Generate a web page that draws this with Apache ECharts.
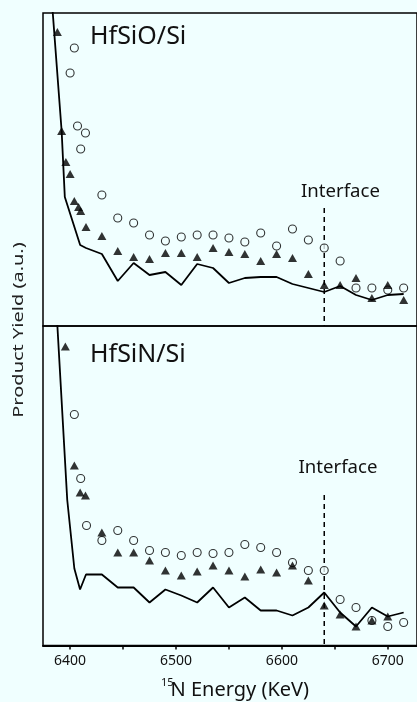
<!DOCTYPE html>
<html>
<head>
<meta charset="utf-8">
<script src="https://cdn.jsdelivr.net/npm/echarts@6/dist/echarts.min.js"></script>
<style>
html,body{margin:0;padding:0;background:#f0ffff;}
#chart{width:417px;height:702px;}
</style>
</head>
<body>
<div id="chart"></div>
<script>
// ---- Data (energies in KeV, yields in arbitrary units) ----
// Top panel: HfSiO/Si
var topLineE = [6382, 6392, 6395, 6409.5, 6415, 6430, 6445, 6460, 6475, 6490, 6505, 6520, 6535, 6550, 6565, 6580, 6595, 6610, 6625, 6640, 6655, 6670, 6685, 6700, 6715];
var topLineY = [336, 195, 129, 81, 78, 72, 45, 63, 51, 54, 41, 62, 58, 43, 48, 49, 49, 42, 38, 34, 40, 31, 26, 31, 32];
var topTriE = [6388, 6392, 6396, 6400, 6404, 6408, 6410, 6415, 6430, 6445, 6460, 6475, 6490, 6505, 6520, 6535, 6550, 6565, 6580, 6595, 6610, 6625, 6640, 6655, 6670, 6685, 6700, 6715];
var topTriY = [294, 195, 164, 152, 125, 119, 115, 99, 90, 75, 69, 67, 73, 73, 69, 78, 74, 72, 65, 72, 68, 52, 41, 41, 48, 28, 41, 26];
var topCircE = [6400, 6404, 6407, 6410, 6414.5, 6430, 6445, 6460, 6475, 6490, 6505, 6520, 6535, 6550, 6565, 6580, 6595, 6610, 6625, 6640, 6655, 6670, 6685, 6700, 6715];
var topCircY = [253, 278, 200, 177, 193, 131, 108, 103, 91, 85, 89, 91, 91, 88, 84, 93, 80, 97, 86, 78, 65, 38, 38, 36, 38];

// Bottom panel: HfSiN/Si
var botLineE = [6387, 6397.3, 6404, 6409.4, 6415, 6430, 6445, 6460, 6475, 6490, 6505, 6520, 6535, 6550, 6565, 6580, 6595, 6610, 6625, 6640, 6655, 6670, 6685, 6700, 6715];
var botLineY = [338, 145.5, 77, 56, 71, 71, 58, 58, 43, 56, 50, 43, 58, 38, 48, 35, 35, 30, 38, 53, 33, 19, 38, 29, 33];
var botTriE = [6395.5, 6404, 6409.5, 6414.5, 6430, 6445, 6460, 6475, 6490, 6505, 6520, 6535, 6550, 6565, 6580, 6595, 6610, 6625, 6640, 6655, 6670, 6685, 6700];
var botTriY = [299, 180, 153, 150, 113, 93, 93, 85, 75, 70, 74, 80, 75, 69, 76, 73, 80, 65, 40, 31, 19, 25, 29];
var botCircE = [6404, 6410, 6415.5, 6430, 6445, 6460, 6475, 6490, 6505, 6520, 6535, 6550, 6565, 6580, 6595, 6610, 6625, 6640, 6655, 6670, 6685, 6700, 6715];
var botCircY = [231, 167, 120, 105, 115, 105, 95, 93, 90, 93, 92, 93, 101, 98, 93, 83, 75, 75, 46, 38, 25, 19, 23];

// Interface position and dashed marker extents
var interfaceE = 6640;
var topInterfaceY = [118, 0];
var botInterfaceY = [150.5, 0];

// Axis ticks / labels
var tickValues = [6400, 6450, 6500, 6550, 6600, 6650, 6700];
var labelValues = [6400, 6500, 6600, 6700];
var panelTitles = ['HfSiO/Si', 'HfSiN/Si'];
var interfaceLabel = 'Interface';
var yAxisTitle = 'Product Yield (a.u.)';
var xAxisSup = '15';
var xAxisTitle = 'N Energy (KeV)';

function pairs(xs, ys) { return xs.map(function (x, i) { return [x, ys[i]]; }); }

var BG = '#f0ffff';
var FONT = 'Noto Sans';
var xMin = 6374.4, xMax = 6727.6;

var chart = echarts.init(document.getElementById('chart'), null, {renderer: 'canvas'});

function xAxisCfg(idx, showLabels) {
  return {
    type: 'value', gridIndex: idx, min: xMin, max: xMax,
    splitLine: {show: false},
    axisLine: {show: showLabels, lineStyle: {color: '#000', width: 2}},
    axisTick: {show: showLabels, customValues: tickValues, length: 4, inside: false, lineStyle: {color: '#000', width: 1.5}},
    axisLabel: {show: showLabels, customValues: labelValues, margin: 9, color: '#111', fontSize: 14, fontFamily: FONT,
      formatter: function (v) { return String(Math.round(v)); }},
  };
}
function yAxisCfg(idx, max) {
  return {
    type: 'value', gridIndex: idx, min: 0, max: max,
    splitLine: {show: false}, axisLine: {show: false}, axisTick: {show: false}, axisLabel: {show: false}
  };
}
function lineSeries(idx, data) {
  return {type: 'line', xAxisIndex: idx, yAxisIndex: idx, data: data, showSymbol: false, symbol: 'none',
    lineStyle: {color: '#000', width: 1.8}, clip: true, z: 2, silent: true, animation: false};
}
function circSeries(idx, data) {
  return {type: 'scatter', xAxisIndex: idx, yAxisIndex: idx, data: data, symbol: 'circle', symbolSize: 8,
    itemStyle: {color: BG, borderColor: '#000', borderWidth: 1.1}, z: 3, silent: true, animation: false};
}
function triSeries(idx, data) {
  return {type: 'scatter', xAxisIndex: idx, yAxisIndex: idx, data: data, symbol: 'triangle', symbolSize: [9, 8],
    itemStyle: {color: '#000'}, z: 4, silent: true, animation: false};
}
function dashSeries(idx, ys) {
  return {type: 'line', xAxisIndex: idx, yAxisIndex: idx, data: [[interfaceE, ys[0]], [interfaceE, ys[1]]],
    symbol: 'none', lineStyle: {color: '#000', width: 1.5, type: [5, 4]}, z: 1, silent: true, animation: false};
}

var option = {
  backgroundColor: BG,
  animation: false,
  grid: [
    {left: 43, top: 13, width: 390, height: 313, show: true, borderColor: '#000', borderWidth: 1.5, backgroundColor: 'transparent'},
    {left: 43, top: 326, width: 390, height: 319.5, show: true, borderColor: '#000', borderWidth: 1.5, backgroundColor: 'transparent'}
  ],
  xAxis: [xAxisCfg(0, false), xAxisCfg(1, true)],
  yAxis: [yAxisCfg(0, 313), yAxisCfg(1, 319.5)],
  series: [
    dashSeries(0, topInterfaceY),
    lineSeries(0, pairs(topLineE, topLineY)),
    circSeries(0, pairs(topCircE, topCircY)),
    triSeries(0, pairs(topTriE, topTriY)),
    dashSeries(1, botInterfaceY),
    lineSeries(1, pairs(botLineE, botLineY)),
    circSeries(1, pairs(botCircE, botCircY)),
    triSeries(1, pairs(botTriE, botTriY))
  ],
  graphic: [
    {type: 'text', left: 90, top: 24, style: {text: panelTitles[0], fontSize: 25, fontFamily: FONT, fill: '#111'}},
    {type: 'text', left: 90, top: 342, style: {text: panelTitles[1], fontSize: 25, fontFamily: FONT, fill: '#111'}},
    {type: 'text', x: 340.5, y: 191.5, style: {text: interfaceLabel, fontSize: 18.6, fontFamily: FONT, fill: '#111', align: 'center', verticalAlign: 'middle'}},
    {type: 'text', x: 338, y: 468, style: {text: interfaceLabel, fontSize: 18.6, fontFamily: FONT, fill: '#111', align: 'center', verticalAlign: 'middle'}},
    {type: 'text', x: 18.5, y: 330, rotation: Math.PI / 2, scaleY: 0.72, style: {text: yAxisTitle, fontSize: 20, fontFamily: FONT, fill: '#222', align: 'center', verticalAlign: 'middle'}},
    {type: 'text', x: 161, y: 683, style: {text: xAxisSup, fontSize: 11, fontFamily: FONT, fill: '#111', align: 'left', verticalAlign: 'middle'}},
    {type: 'text', x: 170.5, y: 690, style: {text: xAxisTitle, fontSize: 20, fontFamily: FONT, fill: '#111', align: 'left', verticalAlign: 'middle'}}
  ]
};
chart.setOption(option);
</script>
</body>
</html>
